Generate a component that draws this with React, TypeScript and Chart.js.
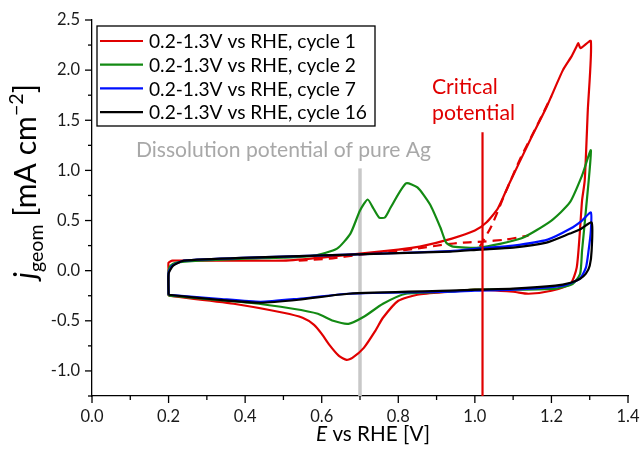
import { useEffect, useRef } from 'react';
import { Chart, registerables } from 'chart.js';

Chart.register(...registerables);

// ---- data (E vs RHE [V], j_geom [mA cm^-2]) ----
const cycle1E = [0.2, 0.2, 0.2, 0.21, 0.25, 0.3, 0.4, 0.5, 0.6, 0.7, 0.8, 0.856, 0.94, 1.0, 1.03, 1.06, 1.09, 1.144, 1.187, 1.23, 1.253, 1.265, 1.27, 1.276, 1.303, 1.295, 1.287, 1.28, 1.274, 1.266, 1.25, 1.2, 1.14, 1.1, 1.0, 0.935, 0.85, 0.8, 0.76, 0.74, 0.71, 0.68, 0.665, 0.645, 0.62, 0.6, 0.58, 0.55, 0.5, 0.37, 0.2];
const cycle1J = [-0.25, 0.0, 0.08, 0.1, 0.1, 0.1, 0.1, 0.1, 0.13, 0.17, 0.21, 0.24, 0.32, 0.4, 0.48, 0.62, 0.87, 1.3, 1.63, 2.0, 2.14, 2.23, 2.27, 2.22, 2.29, 1.6, 0.9, 0.7, 0.37, 0.03, -0.13, -0.2, -0.23, -0.21, -0.19, -0.21, -0.24, -0.3, -0.47, -0.6, -0.77, -0.87, -0.89, -0.85, -0.74, -0.63, -0.54, -0.47, -0.42, -0.33, -0.25];

const cycle1DashAE = [0.54, 0.62, 0.7, 0.78, 0.85, 0.92, 0.97, 1.02, 1.08, 1.14];
const cycle1DashAJ = [0.1, 0.12, 0.16, 0.19, 0.22, 0.26, 0.28, 0.29, 0.31, 0.35];
const cycle1DashBE = [1.013, 1.044, 1.08, 1.12, 1.16, 1.2];
const cycle1DashBJ = [0.24, 0.45, 0.78, 1.13, 1.43, 1.74];

const cycle2E = [0.2, 0.2, 0.205, 0.22, 0.28, 0.4, 0.5, 0.58, 0.64, 0.675, 0.7, 0.72, 0.735, 0.75, 0.765, 0.78, 0.82, 0.85, 0.883, 0.91, 0.925, 0.943, 1.01, 1.12, 1.2, 1.248, 1.28, 1.303, 1.29, 1.28, 1.275, 1.256, 1.21, 1.1, 1.0, 0.935, 0.82, 0.76, 0.71, 0.67, 0.63, 0.59, 0.525, 0.41, 0.2];
const cycle2J = [-0.25, 0.0, 0.05, 0.08, 0.1, 0.12, 0.13, 0.15, 0.22, 0.37, 0.6, 0.71, 0.62, 0.53, 0.53, 0.63, 0.87, 0.83, 0.66, 0.43, 0.28, 0.24, 0.23, 0.32, 0.5, 0.68, 0.95, 1.2, 0.6, 0.2, -0.03, -0.13, -0.18, -0.19, -0.19, -0.21, -0.23, -0.33, -0.46, -0.53, -0.5, -0.43, -0.38, -0.32, -0.25];

const cycle7E = [0.2, 0.2, 0.21, 0.24, 0.41, 0.67, 0.935, 1.02, 1.1, 1.19, 1.25, 1.28, 1.303, 1.303, 1.297, 1.29, 1.274, 1.23, 1.1, 1.0, 0.935, 0.67, 0.54, 0.44, 0.33, 0.2];
const cycle7J = [-0.24, -0.02, 0.05, 0.1, 0.13, 0.16, 0.195, 0.225, 0.25, 0.31, 0.42, 0.5, 0.58, 0.4, 0.2, 0.03, -0.08, -0.15, -0.19, -0.2, -0.21, -0.23, -0.28, -0.31, -0.28, -0.24];

const cycle16E = [0.2, 0.2, 0.212, 0.24, 0.41, 0.67, 0.935, 1.013, 1.1, 1.187, 1.248, 1.274, 1.305, 1.305, 1.3, 1.29, 1.275, 1.25, 1.21, 1.1, 1.01, 0.935, 0.67, 0.54, 0.44, 0.33, 0.2];
const cycle16J = [-0.24, -0.03, 0.05, 0.1, 0.13, 0.16, 0.19, 0.21, 0.23, 0.28, 0.37, 0.41, 0.48, 0.2, 0.05, -0.03, -0.08, -0.12, -0.15, -0.18, -0.19, -0.2, -0.23, -0.29, -0.32, -0.29, -0.24];

const legendLabels = [
  '0.2-1.3V vs RHE, cycle 1',
  '0.2-1.3V vs RHE, cycle 2',
  '0.2-1.3V vs RHE, cycle 7',
  '0.2-1.3V vs RHE, cycle 16',
];

const agDissolutionE = 0.7;
const agLineTopJ = 1.02;
const criticalE = 1.02;
const criticalLineTopJ = 1.38;
const yBottom = -1.25;
const yTop = 2.5;
const xMin = 0;
const xMax = 1.4;

const RED = '#e00000';
const GREEN = '#138a13';
const BLUE = '#0010ff';
const BLACK = '#000000';
const GRAY_LINE = '#c8c8c8';
const GRAY_TEXT = '#a8a8a8';
const FONT = 'Lato, "Open Sans", sans-serif';

const pts = (e: number[], j: number[]) => e.map((x, i) => ({ x, y: j[i] }));

const isMult = (v: number, step: number) => Math.abs(v / step - Math.round(v / step)) < 1e-6;

const fontStr = (style: string, size: number) => `${style ? style + ' ' : ''}${size.toFixed(2)}px ${FONT}`;

function fitSize(ctx: CanvasRenderingContext2D, text: string, width: number, style = '') {
  ctx.font = fontStr(style, 20);
  const w = ctx.measureText(text).width;
  return (20 * width) / w;
}

function drawRun(
  ctx: CanvasRenderingContext2D,
  parts: { t: string; f: string; sc: number; dy: number }[],
  target: number,
  x0: number,
  y0: number,
  align: 'left' | 'center'
) {
  let w20 = 0;
  parts.forEach((p) => {
    ctx.font = fontStr(p.f, 20 * p.sc);
    w20 += ctx.measureText(p.t).width;
  });
  const size = (20 * target) / w20;
  let total = 0;
  const widths = parts.map((p) => {
    ctx.font = fontStr(p.f, size * p.sc);
    const w = ctx.measureText(p.t).width;
    total += w;
    return w;
  });
  let x = align === 'center' ? x0 - total / 2 : x0;
  ctx.textAlign = 'left';
  parts.forEach((p, i) => {
    ctx.font = fontStr(p.f, size * p.sc);
    ctx.fillText(p.t, x, y0 + p.dy * size);
    x += widths[i];
  });
}

const decorPlugin = {
  id: 'decor',
  afterDraw(chart: any) {
    const { ctx, chartArea, scales } = chart;
    const xs = scales.x;
    const ys = scales.y;
    ctx.save();
    // ticks
    ctx.strokeStyle = '#000';
    ctx.lineWidth = 1.3;
    xs.ticks.forEach((t: any) => {
      const px = xs.getPixelForValue(t.value);
      const len = isMult(t.value, 0.2) ? 7 : 4;
      ctx.beginPath();
      ctx.moveTo(px, chartArea.bottom);
      ctx.lineTo(px, chartArea.bottom + len);
      ctx.stroke();
    });
    ys.ticks.forEach((t: any) => {
      const py = ys.getPixelForValue(t.value);
      const len = isMult(t.value, 0.5) ? 7 : 4;
      ctx.beginPath();
      ctx.moveTo(chartArea.left, py);
      ctx.lineTo(chartArea.left - len, py);
      ctx.stroke();
    });

    // annotation texts
    ctx.textBaseline = 'alphabetic';
    ctx.fillStyle = GRAY_TEXT;
    const agText = 'Dissolution potential of pure Ag';
    let s = fitSize(ctx, agText, 295);
    ctx.font = fontStr('', s);
    ctx.textAlign = 'center';
    ctx.fillText(agText, xs.getPixelForValue(0.5), ys.getPixelForValue(1.13));

    ctx.fillStyle = RED;
    s = fitSize(ctx, 'potential', 83);
    ctx.font = fontStr('', s);
    ctx.textAlign = 'left';
    ctx.fillText('Critical', xs.getPixelForValue(0.888), ys.getPixelForValue(1.765));
    ctx.fillText('potential', xs.getPixelForValue(0.888), ys.getPixelForValue(1.5));

    // legend
    const lx = chartArea.left + 5;
    const ly = chartArea.top + 6;
    const lw = 278;
    const lh = 100;
    ctx.fillStyle = '#fff';
    ctx.fillRect(lx, ly, lw, lh);
    ctx.strokeStyle = '#000';
    ctx.lineWidth = 1.3;
    ctx.strokeRect(lx, ly, lw, lh);
    const colors = [RED, GREEN, BLUE, BLACK];
    s = fitSize(ctx, legendLabels[3], 218);
    ctx.font = fontStr('', s);
    ctx.textBaseline = 'middle';
    legendLabels.forEach((lab, i) => {
      const cy = ly + 15 + i * 23.7;
      ctx.strokeStyle = colors[i];
      ctx.lineWidth = 2.2;
      ctx.beginPath();
      ctx.moveTo(lx + 3, cy);
      ctx.lineTo(lx + 46, cy);
      ctx.stroke();
      ctx.fillStyle = '#000';
      ctx.fillText(lab, lx + 52, cy + 1);
    });

    // x-axis title
    ctx.textBaseline = 'alphabetic';
    ctx.fillStyle = '#000';
    drawRun(
      ctx,
      [
        { t: 'E', f: 'italic', sc: 1, dy: 0 },
        { t: ' vs RHE [V]', f: '', sc: 1, dy: 0 },
      ],
      114,
      373,
      441,
      'center'
    );

    // y-axis title
    ctx.translate(36, 279);
    ctx.rotate(-Math.PI / 2);
    drawRun(
      ctx,
      [
        { t: 'j', f: 'italic', sc: 1, dy: 0 },
        { t: 'geom', f: '', sc: 0.65, dy: 0.22 },
        { t: ' [mA cm', f: '', sc: 1, dy: 0 },
        { t: '\u22122', f: '', sc: 0.65, dy: -0.42 },
        { t: ']', f: '', sc: 1, dy: 0 },
      ],
      195,
      0,
      0,
      'left'
    );
    ctx.restore();
  },
};

export default function App() {
  const ref = useRef<HTMLCanvasElement | null>(null);
  useEffect(() => {
    if (!ref.current) return;
    const line = (data: any, color: string, order: number, extra: any = {}) => ({
      data,
      borderColor: color,
      backgroundColor: color,
      borderWidth: 2.2,
      pointRadius: 0,
      showLine: true,
      tension: 0.2,
      fill: false,
      order,
      ...extra,
    });
    const chart = new Chart(ref.current, {
      type: 'scatter',
      data: {
        datasets: [
          line(pts([agDissolutionE, agDissolutionE], [yBottom, agLineTopJ]), GRAY_LINE, 20, { borderWidth: 3.5, tension: 0 }),
          line(pts(cycle1E, cycle1J), RED, 9),
          line(pts(cycle1DashAE, cycle1DashAJ), RED, 8, { borderDash: [9, 6] }),
          line(pts(cycle1DashBE, cycle1DashBJ), RED, 8, { borderDash: [9, 6] }),
          line(pts(cycle2E, cycle2J), GREEN, 6),
          line(pts(cycle7E, cycle7J), BLUE, 4),
          line(pts(cycle16E, cycle16J), BLACK, 3),
          line(pts([criticalE, criticalE], [yBottom, criticalLineTopJ]), RED, 1, { borderWidth: 2.2, tension: 0 }),
        ],
      },
      options: {
        animation: false,
        responsive: false,
        maintainAspectRatio: false,
        layout: { padding: { top: 20, right: 12, left: 0, bottom: 0 } },
        plugins: { legend: { display: false }, tooltip: { enabled: false } },
        scales: {
          x: {
            type: 'linear',
            min: xMin,
            max: xMax,
            grid: { display: false, drawTicks: false },
            border: { display: true, color: '#000', width: 1.3 },
            ticks: {
              stepSize: 0.1,
              autoSkip: false,
              maxRotation: 0,
              padding: 11,
              color: '#1a1a1a',
              font: { family: FONT, size: 16.5 },
              callback: (v: any) => (isMult(Number(v), 0.2) ? Number(v).toFixed(1) : ''),
            },
            afterFit: (s: any) => {
              s.height = 54;
              s.paddingLeft = 0;
              s.paddingRight = 0;
            },
          },
          y: {
            type: 'linear',
            min: yBottom,
            max: yTop,
            grid: { display: false, drawTicks: false },
            border: { display: true, color: '#000', width: 1.3 },
            ticks: {
              stepSize: 0.25,
              autoSkip: false,
              padding: 12,
              color: '#1a1a1a',
              font: { family: FONT, size: 16.5 },
              callback: (v: any) => (isMult(Number(v), 0.5) ? Number(v).toFixed(1) : ''),
            },
            afterFit: (s: any) => {
              s.width = 92;
              s.paddingTop = 0;
              s.paddingBottom = 0;
            },
          },
        },
      },
      plugins: [decorPlugin],
    });
    return () => chart.destroy();
  }, []);
  return (
    <div style={{ position: 'fixed', left: 0, top: 0, width: 640, height: 450, background: '#fff' }}>
      <canvas ref={ref} width={640} height={450} style={{ width: 640, height: 450 }} />
    </div>
  );
}
